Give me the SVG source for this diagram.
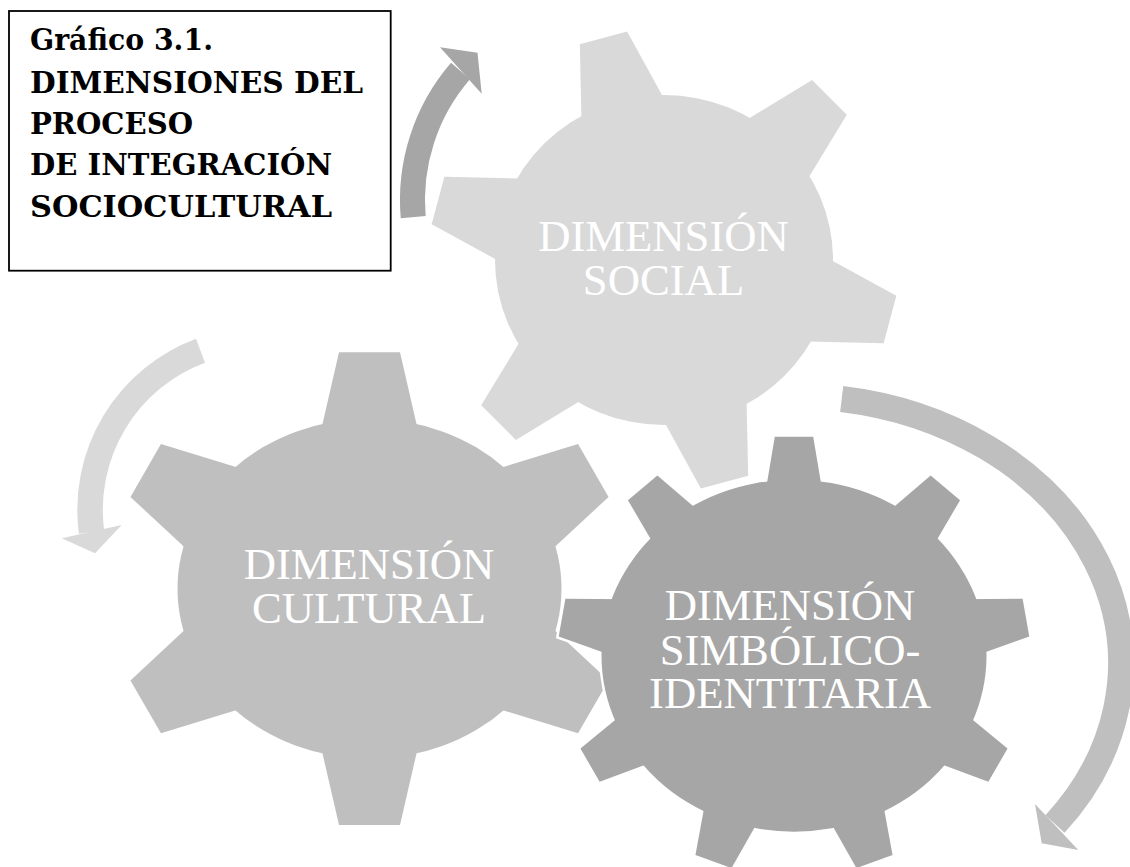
<svg xmlns="http://www.w3.org/2000/svg" width="1130" height="867" viewBox="0 0 1130 867">
<style>
.lbl{font-family:"Liberation Serif","Times New Roman",serif;font-size:44.7px;fill:#ffffff;text-anchor:middle}
.ttl{font-family:"DejaVu Serif","Liberation Serif",serif;font-weight:bold;font-size:29.5px;fill:#000000}
.arc{fill:none;stroke-linecap:butt}
</style>
<defs>
<path id="t6c" d="M-30.5,-66.4 L30.5,-66.4 L50.4,20 L-50.4,20 Z"/>
<path id="t6s" d="M-24.5,-65 L24.5,-65 L45.3,20 L-45.3,20 Z"/>
<path id="t9" d="M-19.2,-43 L19.2,-43 L29.8,20 L-29.8,20 Z"/>
<g id="g9shape">
<ellipse cx="794" cy="655.7" rx="192.5" ry="176"/>
<use href="#t9" transform="translate(794,479.7)"/>
<use href="#t9" transform="translate(917.7,520.9) rotate(40)"/>
<use href="#t9" transform="translate(983.6,625.1) rotate(80)"/>
<use href="#t9" transform="translate(960.7,743.7) rotate(120)"/>
<use href="#t9" transform="translate(859.8,821.1) rotate(160)"/>
<use href="#t9" transform="translate(728.2,821.1) rotate(200)"/>
<use href="#t9" transform="translate(627.3,743.7) rotate(240)"/>
<use href="#t9" transform="translate(604.4,625.1) rotate(280)"/>
<use href="#t9" transform="translate(670.3,520.9) rotate(320)"/>
</g>
</defs>
<rect width="1130" height="867" fill="#ffffff"/>

<g id="title">
<rect x="9" y="11" width="381.7" height="259.7" fill="#ffffff" stroke="#000000" stroke-width="1.8"/>
<text class="ttl" x="30" y="50" textLength="183" lengthAdjust="spacingAndGlyphs">Gráfico 3.1.</text>
<text class="ttl" x="30" y="92.7" textLength="333" lengthAdjust="spacingAndGlyphs">DIMENSIONES DEL</text>
<text class="ttl" x="30" y="133.5" textLength="163" lengthAdjust="spacingAndGlyphs">PROCESO</text>
<text class="ttl" x="30" y="175" textLength="302" lengthAdjust="spacingAndGlyphs">DE INTEGRACIÓN</text>
<text class="ttl" x="30" y="216.7" textLength="302" lengthAdjust="spacingAndGlyphs">SOCIOCULTURAL</text>
</g>

<g id="node-cultural" fill="#BFBFBF">
<ellipse cx="369.5" cy="588.7" rx="192" ry="170"/>
<use href="#t6c" transform="translate(369.5,418.7)"/>
<use href="#t6c" transform="translate(535.8,503.7) rotate(60)"/>
<use href="#t6c" transform="translate(535.8,673.7) rotate(120)"/>
<use href="#t6c" transform="translate(369.5,758.7) rotate(180)"/>
<use href="#t6c" transform="translate(203.2,673.7) rotate(240)"/>
<use href="#t6c" transform="translate(203.2,503.7) rotate(300)"/>
<text class="lbl" x="369" y="579">DIMENSIÓN</text>
<text class="lbl" x="369" y="623.3">CULTURAL</text>
</g>

<g id="node-social" fill="#D9D9D9">
<ellipse cx="664" cy="260" rx="169" ry="165"/>
<use href="#t6s" transform="translate(620.3,100.6) rotate(-15)"/>
<use href="#t6s" transform="translate(783.5,143.3) rotate(45)"/>
<use href="#t6s" transform="translate(827.2,302.7) rotate(105)"/>
<use href="#t6s" transform="translate(707.7,419.4) rotate(165)"/>
<use href="#t6s" transform="translate(544.5,376.7) rotate(225)"/>
<use href="#t6s" transform="translate(500.8,217.3) rotate(285)"/>
<text class="lbl" x="663.5" y="250.7">DIMENSIÓN</text>
<text class="lbl" x="663.5" y="295">SOCIAL</text>
</g>

<g id="node-simbolico">
<use href="#g9shape" fill="#A6A6A6" stroke="#ffffff" stroke-width="5"/>
<use href="#g9shape" fill="#A6A6A6"/>
<text class="lbl" x="790" y="620">DIMENSIÓN</text>
<text class="lbl" x="790" y="664.5">SIMBÓLICO-</text>
<text class="lbl" x="790" y="708">IDENTITARIA</text>
</g>

<g id="connectors">
<g id="arrow-top">
<path class="arc" d="M413.2,217.2 A197.5,197.5 0 0 1 460.5,71" stroke="#A6A6A6" stroke-width="25"/>
<polygon points="440,47.3 477.5,52.8 481.7,93.8" fill="#A6A6A6"/>
</g>
<g id="arrow-left">
<path class="arc" d="M200.5,350.7 A170,170 0 0 0 91.5,532.2" stroke="#D9D9D9" stroke-width="25.5"/>
<polygon points="61.7,538.3 95,553.3 121.7,525" fill="#D9D9D9"/>
</g>
<g id="arrow-right">
<path class="arc" d="M841.7,399 A327,267 0 0 1 1055,824" stroke="#BFBFBF" stroke-width="26"/>
<polygon points="1035,804 1041.7,843.3 1078.3,850" fill="#BFBFBF"/>
</g>
</g>
</svg>
